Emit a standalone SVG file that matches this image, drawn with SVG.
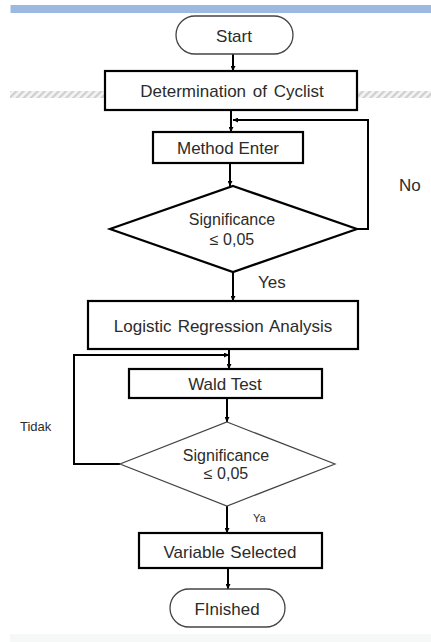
<svg xmlns="http://www.w3.org/2000/svg" width="431" height="642" viewBox="0 0 431 642">
<defs>
<pattern id="hatch" width="5" height="5" patternUnits="userSpaceOnUse" patternTransform="rotate(45)">
<rect width="5" height="5" fill="#f4f4f4"/>
<rect width="2.2" height="5" fill="#cfcfcf"/>
</pattern>
<marker id="arr" viewBox="0 0 10 10" refX="10" refY="5" markerWidth="5" markerHeight="5" orient="auto" markerUnits="userSpaceOnUse">
<path d="M0,0 L10,5 L0,10 z" fill="#000"/>
</marker>
</defs>
<style>
text{font-family:"Liberation Sans",Arial,sans-serif;fill:#2b2b2b;text-anchor:middle}
.box{fill:#fff;stroke:#000;stroke-width:2.2}
.pill{fill:#fff;stroke:#444;stroke-width:1.3}
.dthin{fill:#fff;stroke:#444;stroke-width:1.2}
.con{fill:none;stroke:#000;stroke-width:2}
.t17{font-size:17px}
.t16{font-size:16px}
.lbl{text-anchor:start}
</style>
<rect x="0" y="0" width="431" height="642" fill="#fff"/>
<rect x="10.5" y="5" width="420.5" height="8" fill="#9cb9e1"/>
<rect x="10" y="91" width="421" height="7" fill="url(#hatch)"/>
<rect x="10" y="634" width="421" height="8" fill="#f6f8f8"/>

<g id="connectors">
<line class="con" x1="233" y1="54" x2="233" y2="71" marker-end="url(#arr)"/>
<line class="con" x1="231" y1="110" x2="231" y2="132" marker-end="url(#arr)"/>
<polyline class="con" points="357,229 368,229 368,120 233,120" marker-end="url(#arr)"/>
<line class="con" x1="230" y1="163" x2="230" y2="186" marker-end="url(#arr)"/>
<line class="con" x1="233" y1="272" x2="233" y2="301" marker-end="url(#arr)"/>
<line class="con" x1="229" y1="349" x2="229" y2="369" marker-end="url(#arr)"/>
<polyline class="con" points="120,464 74,464 74,355 229,355" marker-end="url(#arr)"/>
<line class="con" x1="227" y1="398" x2="227" y2="422" marker-end="url(#arr)"/>
<line class="con" x1="227" y1="506" x2="227" y2="533" marker-end="url(#arr)"/>
<line class="con" x1="228" y1="568" x2="228" y2="589" marker-end="url(#arr)"/>
</g>

<g id="start">
<rect class="pill" x="176" y="16" width="117" height="38" rx="19"/>
<text class="t17" x="234" y="42">Start</text>
</g>
<g id="determination">
<rect class="box" x="105" y="71" width="252" height="39"/>
<text class="t17" x="232" y="97" word-spacing="2">Determination of Cyclist</text>
</g>
<g id="method-enter">
<rect class="box" x="153" y="132" width="150" height="31"/>
<text class="t17" x="228" y="154">Method Enter</text>
</g>
<g id="decision1">
<polygon points="233,186 357,229 233,272 110,229" fill="#fff" stroke="#000" stroke-width="2.2"/>
<text class="t16" x="232" y="225">Significance</text>
<text class="t16" x="232" y="245">≤ 0,05</text>
</g>
<g id="logistic">
<rect class="box" x="88" y="301" width="270" height="48"/>
<text class="t17" x="223" y="332" word-spacing="1.5">Logistic Regression Analysis</text>
</g>
<g id="wald">
<rect class="box" x="129" y="369" width="193" height="29"/>
<text class="t17" x="225" y="390">Wald Test</text>
</g>
<g id="decision2">
<polygon class="dthin" points="227,422 335,464 227,506 120,464"/>
<text class="t16" x="226" y="461">Significance</text>
<text class="t16" x="226" y="479">≤ 0,05</text>
</g>
<g id="variable">
<rect class="box" x="139" y="533" width="183" height="35"/>
<text class="t17" x="230" y="558" word-spacing="1">Variable Selected</text>
</g>
<g id="finished">
<rect class="pill" x="170" y="589" width="115" height="38" rx="19"/>
<text class="t17" x="227" y="615">FInished</text>
</g>

<g id="labels">
<text class="t17 lbl" x="399" y="191">No</text>
<text class="t17 lbl" x="258" y="288">Yes</text>
<text class="lbl" x="20" y="431" font-size="13">Tidak</text>
<text class="lbl" x="253" y="522" font-size="11">Ya</text>
</g>
</svg>
